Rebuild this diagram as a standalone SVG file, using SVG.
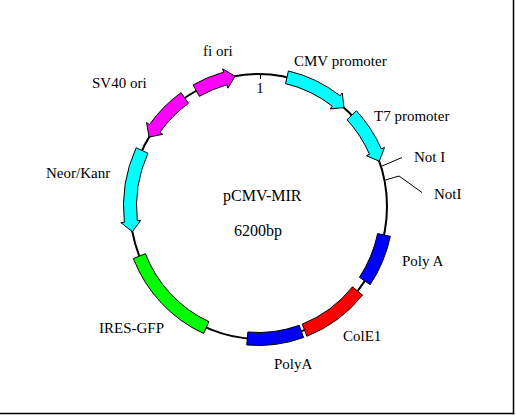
<svg xmlns="http://www.w3.org/2000/svg" width="516" height="416" viewBox="0 0 516 416">
<style>
.lbl{font-family:"Liberation Serif","Times New Roman",serif;font-size:15px;fill:#000}
.ctr{font-family:"Liberation Serif","Times New Roman",serif;font-size:16px;fill:#000}
.feat{stroke:#000;stroke-width:1;stroke-linejoin:miter}
.thin{fill:none;stroke:#000;stroke-width:1}
</style>
<rect x="0" y="0" width="516" height="416" fill="#fff"/>
<g id="frame" fill="none" stroke="#000" stroke-width="1.5">
<line x1="513.5" y1="0" x2="513.5" y2="414.2"/>
<line x1="0" y1="413.5" x2="514.2" y2="413.5"/>
</g>
<g id="backbone">
<ellipse cx="258.5" cy="206.5" rx="128.5" ry="132.5" fill="none" stroke="#000" stroke-width="2"/>
<line x1="260.5" y1="74" x2="260.5" y2="79" class="thin"/>
<text x="260" y="93" class="lbl" text-anchor="middle">1</text>
</g>
<g id="connectors">
<polyline class="thin" points="382,166 402,157.5"/>
<polyline class="thin" points="385.5,180 399,176 422,192.5"/>
</g>
<g id="cmv">
<path class="feat" fill="#00FFFF" d="M288.40 70.96 A135 139 0 0 1 340.12 95.79 L342.24 93.00 L343.98 107.58 L330.15 108.93 L332.26 106.14 A122 126 0 0 0 285.52 83.64 Z"/>
<text x="294" y="65.5" class="lbl">CMV promoter</text>
</g>
<g id="t7">
<path class="feat" fill="#00FFFF" d="M356.43 110.81 A135 139 0 0 1 381.35 148.86 L384.54 147.41 L379.25 161.18 L366.34 155.70 L369.52 154.25 A122 126 0 0 0 347.00 119.76 Z"/>
<text x="374" y="121" class="lbl">T7 promoter</text>
</g>
<g id="noti1">
<text x="414" y="162" class="lbl">Not I</text>
</g>
<g id="noti2">
<text x="434" y="199" class="lbl">NotI</text>
</g>
<g id="polya-right">
<path class="feat" fill="#0000FF" d="M390.35 236.34 A135 139 0 0 1 370.16 284.63 L359.41 277.32 A122 126 0 0 0 377.66 233.55 Z"/>
<text x="402" y="266" class="lbl">Poly A</text>
</g>
<g id="cole1">
<path class="feat" fill="#FF0000" d="M362.52 295.10 A135 139 0 0 1 306.88 336.27 L302.22 324.13 A122 126 0 0 0 352.50 286.81 Z"/>
<text x="343" y="341" class="lbl">ColE1</text>
</g>
<g id="polya-bottom">
<path class="feat" fill="#0000FF" d="M303.56 337.52 A135 139 0 0 1 246.73 344.97 L247.86 332.02 A122 126 0 0 0 299.22 325.27 Z"/>
<text x="274" y="369" class="lbl">PolyA</text>
</g>
<g id="ires-gfp">
<path class="feat" fill="#00FF00" d="M203.60 333.48 A135 139 0 0 1 133.33 258.57 L145.38 253.70 A122 126 0 0 0 208.88 321.60 Z"/>
<text x="99" y="333" class="lbl">IRES-GFP</text>
</g>
<g id="neor">
<path class="feat" fill="#00FFFF" d="M136.15 147.76 A135 139 0 0 0 124.36 222.23 L120.89 222.63 L132.36 231.78 L140.76 220.37 L137.28 220.76 A122 126 0 0 1 147.93 153.25 Z"/>
<text x="46" y="178" class="lbl">Neor/Kanr</text>
</g>
<g id="sv40">
<path class="feat" fill="#FF00FF" d="M181.06 92.63 A135 139 0 0 0 149.42 124.60 L146.59 122.54 L149.06 137.07 L162.75 134.32 L159.92 132.26 A122 126 0 0 1 188.52 103.28 Z"/>
<text x="92" y="88" class="lbl">SV40 ori</text>
</g>
<g id="fiori">
<path class="feat" fill="#FF00FF" d="M193.05 84.93 A135 139 0 0 1 223.56 72.24 L222.66 68.86 L235.09 76.21 L227.83 88.18 L226.93 84.80 A122 126 0 0 0 199.35 96.30 Z"/>
<text x="203" y="55.5" class="lbl">fi ori</text>
</g>
<g id="title">
<text x="223" y="201" class="ctr">pCMV-MIR</text>
<text x="234" y="236" class="ctr">6200bp</text>
</g>
</svg>
